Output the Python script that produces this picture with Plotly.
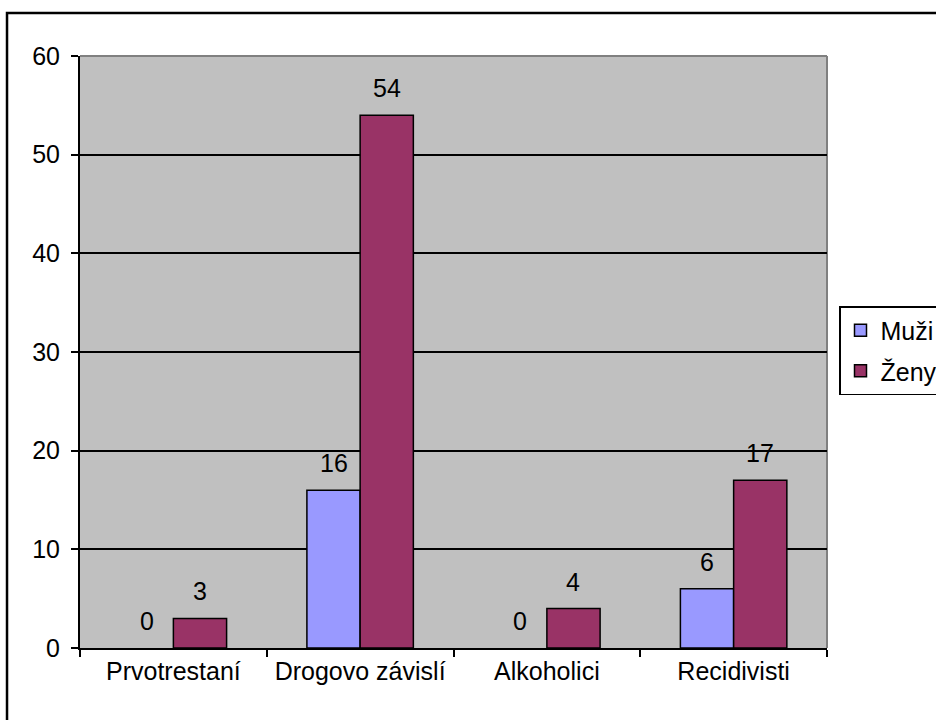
import plotly.graph_objects as go

# Data
categories = ["Prvotrestaní", "Drogovo závislí", "Alkoholici", "Recidivisti"]
muzi = [0, 16, 0, 6]
zeny = [3, 54, 4, 17]
series_names = ["Muži", "Ženy"]
y_ticks = [0, 10, 20, 30, 40, 50, 60]

FONT = "Liberation Sans, Arial, sans-serif"
FS = 25
COL_M = "#9999FF"
COL_Z = "#993366"

fig = go.Figure()
for name, vals, col in [(series_names[0], muzi, COL_M), (series_names[1], zeny, COL_Z)]:
    # zero-height bars carry no outline, so they are left out of the drawn bars
    fig.add_trace(go.Bar(
        x=categories, y=[v if v != 0 else None for v in vals], name=name, legendgroup=name,
        marker=dict(color=col, line=dict(color="black", width=1.5)),
    ))

# Value labels above each bar
annotations = []
for vals, shift in [(muzi, -26.5), (zeny, 26.5)]:
    for c, v in zip(categories, vals):
        annotations.append(dict(
            x=c, y=v, xref="x", yref="y", text=str(v), showarrow=False,
            xshift=shift, yshift=27, yanchor="middle",
            font=dict(family=FONT, size=FS, color="black"),
        ))

shapes = [
    # plot area top and right edge
    dict(type="line", xref="paper", yref="paper", x0=0, x1=1, y0=1, y1=1,
         line=dict(color="#808080", width=2), layer="between"),
    dict(type="line", xref="paper", yref="paper", x0=1, x1=1, y0=0, y1=1,
         line=dict(color="#808080", width=2), layer="between"),
    # chart frame
    dict(type="rect", xref="paper", yref="paper", x0=-0.0977, x1=1.3, y0=-0.3, y1=1.0726,
         line=dict(color="black", width=2.5), fillcolor="rgba(0,0,0,0)"),
]

fig.update_layout(
    width=936, height=720,
    margin=dict(l=80, r=109, t=56, b=72),
    paper_bgcolor="white", plot_bgcolor="#C0C0C0",
    barmode="group", bargap=0.43, bargroupgap=0,
    font=dict(family=FONT, size=FS, color="black"),
    showlegend=True,
    legend=dict(
        xref="container", yref="container",
        x=839 / 936, y=1 - 306 / 720, xanchor="left", yanchor="top",
        bordercolor="black", borderwidth=1.5, bgcolor="white",
        font=dict(family=FONT, size=FS), tracegroupgap=5,
        traceorder="grouped",
    ),
    annotations=annotations, shapes=shapes,
)
fig.update_xaxes(
    showline=True, linecolor="black", linewidth=2,
    ticks="outside", tickson="boundaries", ticklen=7, tickcolor="black", tickwidth=1.5,
    showgrid=False, tickfont=dict(family=FONT, size=FS),
)
fig.update_yaxes(
    range=[0, 60], tickvals=y_ticks,
    showline=True, linecolor="black", linewidth=2,
    ticks="outside", ticklen=7, tickcolor="black", tickwidth=1.5,
    showgrid=True, gridcolor="black", gridwidth=1.5, zeroline=False,
    tickfont=dict(family=FONT, size=FS), ticklabelstandoff=6,
)

fig.write_html("out.html")
